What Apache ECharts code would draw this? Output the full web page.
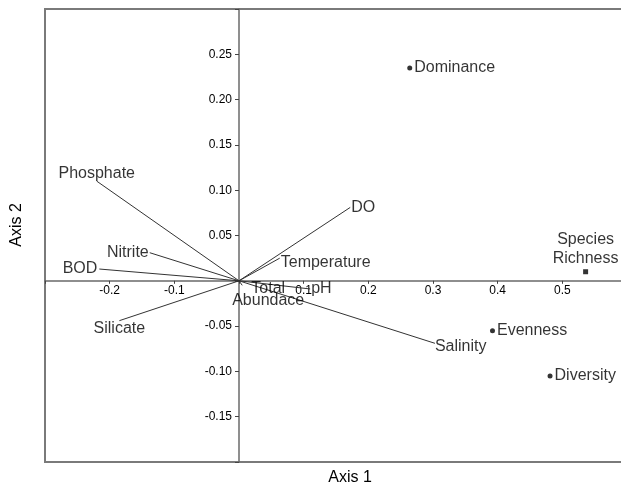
<!DOCTYPE html>
<html>
<head>
<meta charset="utf-8">
<script src="https://cdn.jsdelivr.net/npm/echarts@6/dist/echarts.min.js"></script>
<style>
  html, body { margin: 0; padding: 0; background: #fff; }
  #cca-chart { width: 621px; height: 488px; }
</style>
</head>
<body>
<div id="cca-chart"></div>
<script>
// environmental vectors (arrow tips)
const envNames = ['Phosphate', 'Nitrite', 'BOD', 'Silicate', 'DO', 'Temperature', 'pH', 'Total\nAbundace', 'Salinity'];
const envAxis1 = [-0.220, -0.138, -0.216, -0.185, 0.172, 0.063, 0.110, 0.005, 0.303];
const envAxis2 = [0.110, 0.031, 0.013, -0.044, 0.081, 0.025, -0.009, -0.005, -0.069];

// diversity indices (points)
const indexNames = ['Dominance', 'Evenness', 'Diversity', 'Species\nRichness'];
const indexAxis1 = [0.264, 0.392, 0.481, 0.536];
const indexAxis2 = [0.235, -0.055, -0.105, 0.010];

// tick labels that are printed
const xTickLabels = ['-0.2', '-0.1', '0.1', '0.2', '0.3', '0.4', '0.5'];
const yTickLabels = ['0.25', '0.20', '0.15', '0.10', '0.05', '-0.05', '-0.10', '-0.15'];

const X_MIN = -0.3, X_MAX = 0.6, Y_MIN = -0.2, Y_MAX = 0.3;
const GRID = { left: 45, top: 9, width: 582, height: 453 };
const FONT = 'Liberation Sans, Arial, sans-serif';

// label placement per name (style only)
const envLabelStyle = {
  'Phosphate': { position: 'top', distance: 0 },
  'Nitrite': { position: 'left', distance: 1 },
  'BOD': { position: 'left', distance: 2 },
  'Silicate': { position: 'bottom', distance: 0 },
  'DO': { position: 'right', distance: 1 },
  'Temperature': { position: 'right', distance: 1, offset: [0, 4] },
  'pH': { position: 'right', distance: 1 },
  'Total\nAbundace': { position: 'bottom', distance: 0, offset: [26, -3], lineHeight: 12 },
  'Salinity': { position: 'right', distance: 0, offset: [0, 3] }
};
const indexLabelStyle = {
  'Dominance': { position: 'right', distance: 2, symbol: 'circle' },
  'Evenness': { position: 'right', distance: 2, symbol: 'circle' },
  'Diversity': { position: 'right', distance: 2, symbol: 'circle' },
  'Species\nRichness': { position: 'top', distance: 1, lineHeight: 19, symbol: 'rect' }
};

const chart = echarts.init(document.getElementById('cca-chart'));

// shift the axes so that they cross at the origin
const xAxisOffset = -GRID.height * (0 - Y_MIN) / (Y_MAX - Y_MIN);
const yAxisOffset = -GRID.width * (0 - X_MIN) / (X_MAX - X_MIN);

const vectorSeries = envNames.map((name, i) => ({
  type: 'line',
  data: [[0, 0], [envAxis1[i], envAxis2[i]]],
  symbol: 'none',
  silent: true,
  lineStyle: { color: '#333', width: 1 },
  z: 3
}));

const envTips = {
  type: 'scatter',
  symbolSize: 0,
  z: 4,
  data: envNames.map((name, i) => {
    const s = envLabelStyle[name];
    return {
      name: name,
      value: [envAxis1[i], envAxis2[i]],
      label: {
        show: true,
        formatter: '{b}',
        position: s.position,
        distance: s.distance,
        offset: s.offset || [0, 0],
        lineHeight: s.lineHeight || 16,
        align: s.position === 'bottom' || s.position === 'top' ? 'center' : undefined,
        color: '#000',
        fontSize: 16,
        fontFamily: FONT
      }
    };
  })
};

const indexPoints = {
  type: 'scatter',
  z: 5,
  itemStyle: { color: '#000' },
  data: indexNames.map((name, i) => {
    const s = indexLabelStyle[name];
    return {
      name: name,
      value: [indexAxis1[i], indexAxis2[i]],
      symbol: s.symbol,
      symbolSize: 5,
      label: {
        show: true,
        formatter: '{b}',
        position: s.position,
        distance: s.distance,
        lineHeight: s.lineHeight || 16,
        align: s.position === 'top' ? 'center' : undefined,
        color: '#000',
        fontSize: 16,
        fontFamily: FONT
      }
    };
  })
};

chart.setOption({
  animation: false,
  backgroundColor: '#fff',
  grid: Object.assign({
    show: true,
    outerBoundsMode: 'none',
    containLabel: false,
    borderColor: '#7a7a7a',
    borderWidth: 2,
    backgroundColor: 'transparent'
  }, GRID),
  xAxis: {
    type: 'value',
    min: X_MIN,
    max: X_MAX,
    interval: 0.1,
    offset: xAxisOffset,
    axisLine: { onZero: false, lineStyle: { color: '#6a6a6a', width: 1.5 } },
    axisTick: { show: true, length: 3, lineStyle: { color: '#444' } },
    splitLine: { show: false },
    axisLabel: {
      margin: 4,
      color: '#000',
      fontSize: 12,
      fontFamily: FONT,
      formatter: v => {
        const s = v.toFixed(1);
        return xTickLabels.includes(s) ? s : '';
      }
    }
  },
  yAxis: {
    type: 'value',
    min: Y_MIN,
    max: Y_MAX,
    interval: 0.05,
    offset: yAxisOffset,
    axisLine: { onZero: false, lineStyle: { color: '#6a6a6a', width: 1.5 } },
    axisTick: { show: true, length: 4, lineStyle: { color: '#444' } },
    splitLine: { show: false },
    axisLabel: {
      margin: 7,
      color: '#000',
      fontSize: 12,
      fontFamily: FONT,
      formatter: v => {
        const s = v.toFixed(2);
        return yTickLabels.includes(s) ? s : '';
      }
    }
  },
  graphic: [
    {
      type: 'text',
      x: 350,
      y: 478,
      style: { text: 'Axis 1', font: '16px ' + FONT, fill: '#000', align: 'center', verticalAlign: 'middle' }
    },
    {
      type: 'text',
      x: 17,
      y: 225,
      rotation: Math.PI / 2,
      style: { text: 'Axis 2', font: '16px ' + FONT, fill: '#000', align: 'center', verticalAlign: 'middle' }
    }
  ],
  series: vectorSeries.concat([envTips, indexPoints])
});
</script>
</body>
</html>
